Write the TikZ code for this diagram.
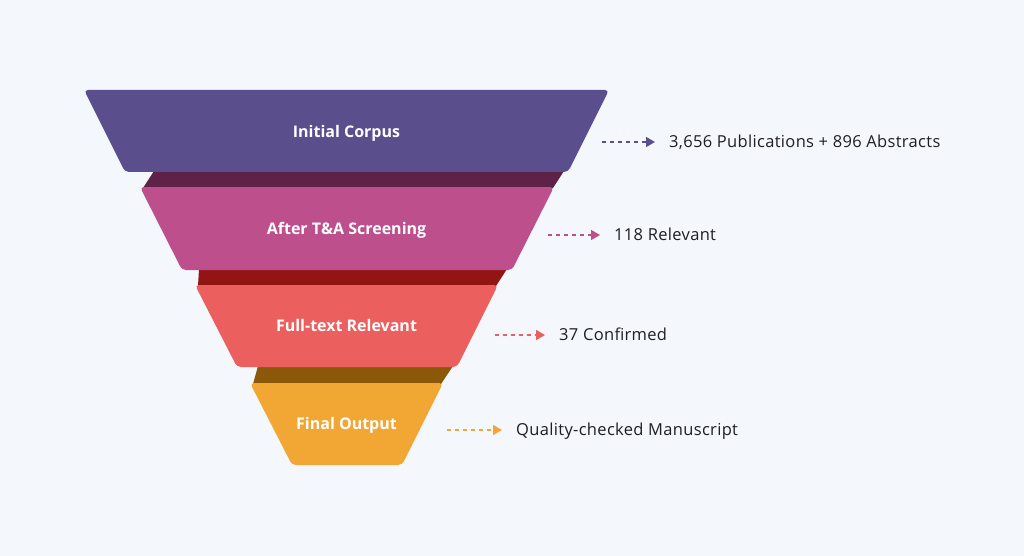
\documentclass[tikz,border=0pt]{standalone}
\usepackage{fontspec}
\setmainfont{Open Sans}
\newfontfamily\sidefont[LetterSpace=2.0]{Open Sans}
\usetikzlibrary{arrows.meta}
\usetikzlibrary{positioning}
\definecolor{bg}{HTML}{F4F8FC}
\definecolor{ink}{HTML}{1E1E24}
\definecolor{c1}{HTML}{5A4F8C}
\definecolor{c2}{HTML}{BC4F8C}
\definecolor{c3}{HTML}{EB5F5F}
\definecolor{c4}{HTML}{F2A735}
\definecolor{d1}{HTML}{5E2248}
\definecolor{d2}{HTML}{921414}
\definecolor{d3}{HTML}{8B5708}
\begin{document}
\begin{tikzpicture}[x=1pt,y=-1pt,
  stage node/.style={text=white,font=\bfseries\fontsize{16}{18}\selectfont,inner sep=0pt,text height=11.5pt,text depth=0pt},
  side node/.style={text=ink,font=\sidefont\fontsize{16.5}{19}\selectfont,inner sep=0pt,text height=11.8pt,text depth=0pt},
  flow/.style={dash pattern=on 4pt off 4pt,line width=1.5pt,-{Triangle[length=9pt,width=10pt]},shorten >=14pt}]
  \fill[bg] (0,0) rectangle (1024,556);
  \useasboundingbox (0,0) rectangle (1024,556);
  % dark bands between the stages
  \fill[d1] (154,171) -- (564,171) -- (553,188) -- (143,188) -- cycle;
  \fill[d2] (199,269) -- (507,269) -- (496,286) -- (198,286) -- cycle;
  \fill[d3] (258,366) -- (453,366) -- (441,384) -- (253,384) -- cycle;
  % funnel stages
  \fill[c1,rounded corners=4pt] (84,90) -- (609,90) -- (568,172) -- (125,172) -- cycle;
  \fill[c2,rounded corners=4pt] (140,187) -- (554,187) -- (512,270) -- (182,270) -- cycle;
  \fill[c3,rounded corners=4pt] (195,285) -- (498,285) -- (457,367) -- (237,367) -- cycle;
  \fill[c4,rounded corners=4pt] (250,383) -- (443,383) -- (402,465) -- (292,465) -- cycle;
  \node[stage node] (1) at (346.5,132) {Initial Corpus};
  \node[stage node] (2) at (346.5,229) {After T\&A Screening};
  \node[stage node] (3) at (346.5,326) {Full-text Relevant};
  \node[stage node] (4) at (346.5,424) {Final Output};
  % outcomes
  \coordinate (p1) at (602,142);
  \coordinate (p2) at (548,235);
  \coordinate (p3) at (495,335);
  \coordinate (p4) at (447,430);
  \node[side node] (r1) [right=67pt of p1] {3,656 Publications + 896 Abstracts};
  \node[side node] (r2) [right=66pt of p2] {118 Relevant};
  \node[side node] (r3) [right=64pt of p3] {37 Confirmed};
  \node[side node] (r4) [right=69pt of p4] {Quality-checked Manuscript};
  \path[flow]
(p1) edge[c1] (r1)
(p2) edge[c2] (r2)
(p3) edge[c3] (r3)
(p4) edge[c4] (r4);
\end{tikzpicture}
\end{document}
